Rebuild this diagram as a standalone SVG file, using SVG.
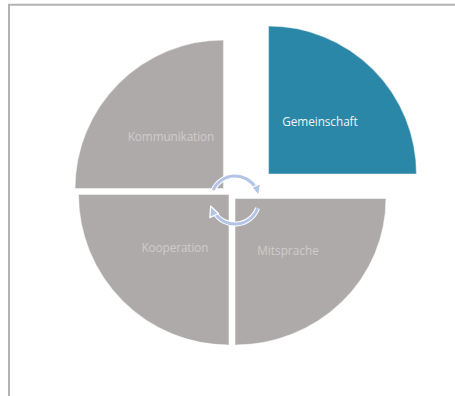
<svg xmlns="http://www.w3.org/2000/svg" width="455" height="396" viewBox="0 0 455 396">
<defs>
<style>
.frame{stroke:#b3b3b3;stroke-width:2;fill:none}
.seg{fill:#aeaaaa;stroke:#ffffff;stroke-opacity:0.45;stroke-width:1.2}
.seg.blue{fill:#2a87a7}
.lbl{font-family:"Open Sans","Liberation Sans",sans-serif;font-size:11.8px;text-anchor:middle;fill:#cfcccc}
.lbl.w{fill:#f0f5f8}
.arcw{fill:none;stroke:#ffffff;stroke-width:5}
.arc{fill:none;stroke:#b4c4e6;stroke-width:3}
.headw{fill:#b4c4e6;stroke:#ffffff;stroke-width:1.2;stroke-linejoin:round}
</style>
</defs>
<rect x="0" y="0" width="455" height="396" fill="#ffffff"/>
<path class="frame" d="M9,396 V4.8 H455"/>
<g id="kommunikation">
<path class="seg" d="M223.5,188.5 L75,188.5 A148.5,148.5 0 0 1 223.5,40 Z"/>
<text class="lbl" x="171" y="141" textLength="86.5">Kommunikation</text>
</g>
<g id="gemeinschaft">
<path class="seg blue" d="M268.5,174 L268.5,26 A148,148 0 0 1 416.5,174 Z"/>
<text class="lbl w" x="320" y="126" textLength="75.5">Gemeinschaft</text>
</g>
<g id="kooperation">
<path class="seg" d="M229,194.5 L229,345 A150.5,150.5 0 0 1 78.5,194.5 Z"/>
<text class="lbl" x="175" y="252" textLength="67">Kooperation</text>
</g>
<g id="mitsprache">
<path class="seg" d="M235,198.5 L386,198.5 A151,146.5 0 0 1 235,345 Z"/>
<text class="lbl" x="288" y="255" textLength="61.5">Mitsprache</text>
</g>
<g id="connectors">
<path class="arcw" d="M213.1,190.2 A24,24 0 0 1 255.8,188"/>
<path class="arc" d="M213.1,190.2 A24,24 0 0 1 255.8,188"/>
<path class="headw" d="M251.8,187.5 L260.5,183.8 L258.6,195.5 Z"/>
<path class="arcw" d="M257.6,208.2 A24,24 0 0 1 214.2,212"/>
<path class="arc" d="M257.6,208.2 A24,24 0 0 1 214.2,212"/>
<path class="headw" d="M218.5,213.5 L209.8,217.6 L210.6,206 Z"/>
</g>
</svg>
